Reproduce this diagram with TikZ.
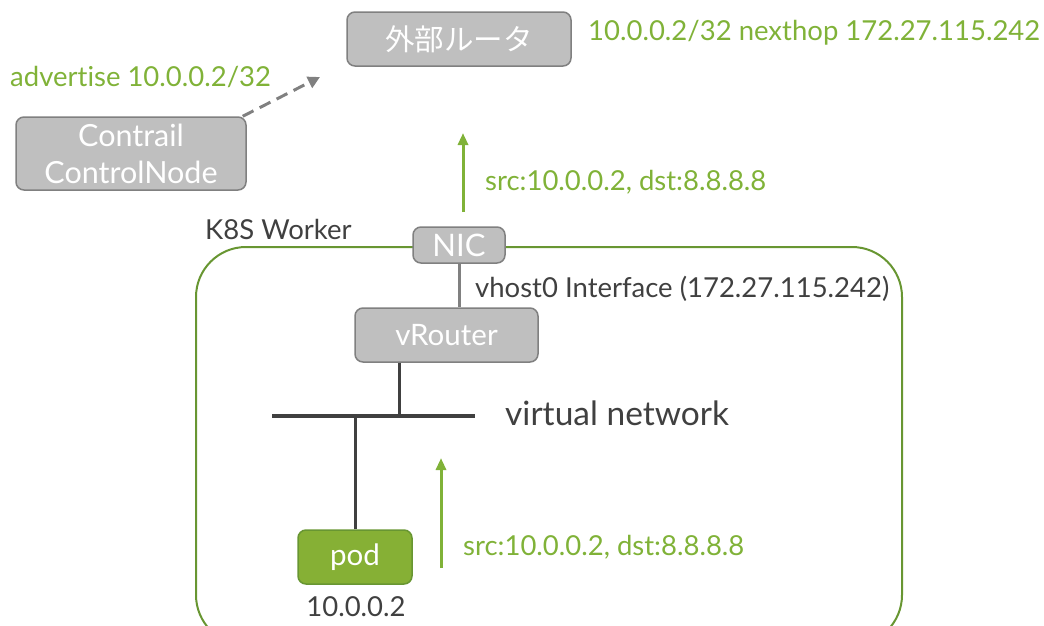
\documentclass[tikz,border=0pt]{standalone}
\usepackage{fontspec}
\setmainfont{Lato}[Ligatures=NoCommon]
\newfontfamily\jpfont{Noto Sans CJK JP}
\usetikzlibrary{arrows.meta}
\usetikzlibrary{positioning}
\definecolor{boxgray}{RGB}{191,191,191}
\definecolor{boxedge}{RGB}{128,128,128}
\definecolor{leafgreen}{RGB}{128,178,56}
\definecolor{podgreen}{RGB}{134,176,53}
\definecolor{workeredge}{RGB}{104,150,50}
\definecolor{darktext}{RGB}{64,64,64}
\tikzstyle{graybox} = [rectangle, rounded corners=8pt, fill=boxgray, draw=boxedge, line width=1.5pt, text=white, font=\fontsize{29.5}{37}\selectfont, align=center]
\tikzstyle{podbox} = [rectangle, rounded corners=8pt, fill=podgreen, draw=workeredge, line width=1.5pt, text=white, font=\fontsize{29.5}{35}\selectfont]
\tikzstyle{greenlabel} = [text=leafgreen, font=\fontsize{27.5}{32}\selectfont, inner sep=0pt]
\tikzstyle{darklabel} = [text=darktext, font=\fontsize{27.5}{32}\selectfont, inner sep=0pt]
\tikzstyle{flow} = [draw=leafgreen, line width=3pt, -{Triangle[width=10pt,length=12pt]}]
\tikzstyle{wire} = [draw=darktext, line width=3pt]

\begin{document}
\begin{tikzpicture}[x=1pt, y=-1pt]
\useasboundingbox (0,0) rectangle (1044,625);
\clip (0,0) rectangle (1044,625);
% worker host
\draw[workeredge, line width=2pt, rounded corners=50pt] (196,247) rectangle (902,645);
\node[darklabel, anchor=west] (workerlbl) at (205,229) {K8S Worker};

\node (router) [graybox, minimum width=224pt, minimum height=54pt] at (459,39) {\jpfont 外部ルータ};
\node (control) [graybox, minimum width=230pt, minimum height=73pt, inner sep=0pt, font=\fontsize{30.5}{37}\selectfont] at (131,153.5) {Contrail\\ControlNode};
\node (nic) [graybox, minimum width=92pt, minimum height=36pt, inner sep=0pt, font=\fontsize{31}{34}\selectfont] at (459,245) {NIC};
\node (vrouter) [graybox, minimum width=183pt, minimum height=54pt] at (446.5,335) {vRouter};
\node (pod) [podbox, minimum width=114pt, minimum height=54pt] at (355,557) {pod};

\node[greenlabel, anchor=west] (routelbl) at (588,33) {10.0.0.2/32 nexthop 172.27.115.242};
\node[greenlabel, anchor=west] (advlbl) at (10,77) {advertise 10.0.0.2/32};
\node[greenlabel, anchor=west] (uplbl) at (485,182) {src:10.0.0.2, dst:8.8.8.8};
\node[greenlabel, anchor=west] (podlbl) at (463,547) {src:10.0.0.2, dst:8.8.8.8};
\node[darklabel, anchor=west] (vhostlbl) at (475,289) {vhost0 Interface (172.27.115.242)};
\node[darklabel] (podip) at (356,607) {10.0.0.2};
\node[text=darktext, font=\fontsize{33.5}{40}\selectfont, anchor=west, inner sep=0pt] (vnlbl) at (505,413) {virtual network};

% virtual network bus
\coordinate (busl) at (272,416);
\coordinate (busr) at (475,416);
\coordinate (vrtap) at (399,416);
\draw[wire, line width=4pt] (busl) -- (busr);
\draw[wire] (vrouter.south -| vrtap) -- (vrtap);
\draw[wire] (pod.north) -- (pod.north |- busl);
\draw[draw=boxedge, line width=3pt] (nic.south) -- (nic.south |- vrouter.north);

% packet flows
\coordinate (upfrom) at (463,212);
\coordinate (upto) at (463,133);
\coordinate (podfrom) at (441,568);
\coordinate (podto) at (441,458);
\draw[flow] (upfrom) -- (upto);
\draw[flow] (podfrom) -- (podto);

% route advertisement
\coordinate (advto) at (320,77);
\draw[draw=boxedge, line width=3pt, dash pattern=on 12pt off 7pt, -{Triangle[width=12pt,length=12pt]}] (control.north east) ++(-4,0) -- (advto);
\end{tikzpicture}
\end{document}
